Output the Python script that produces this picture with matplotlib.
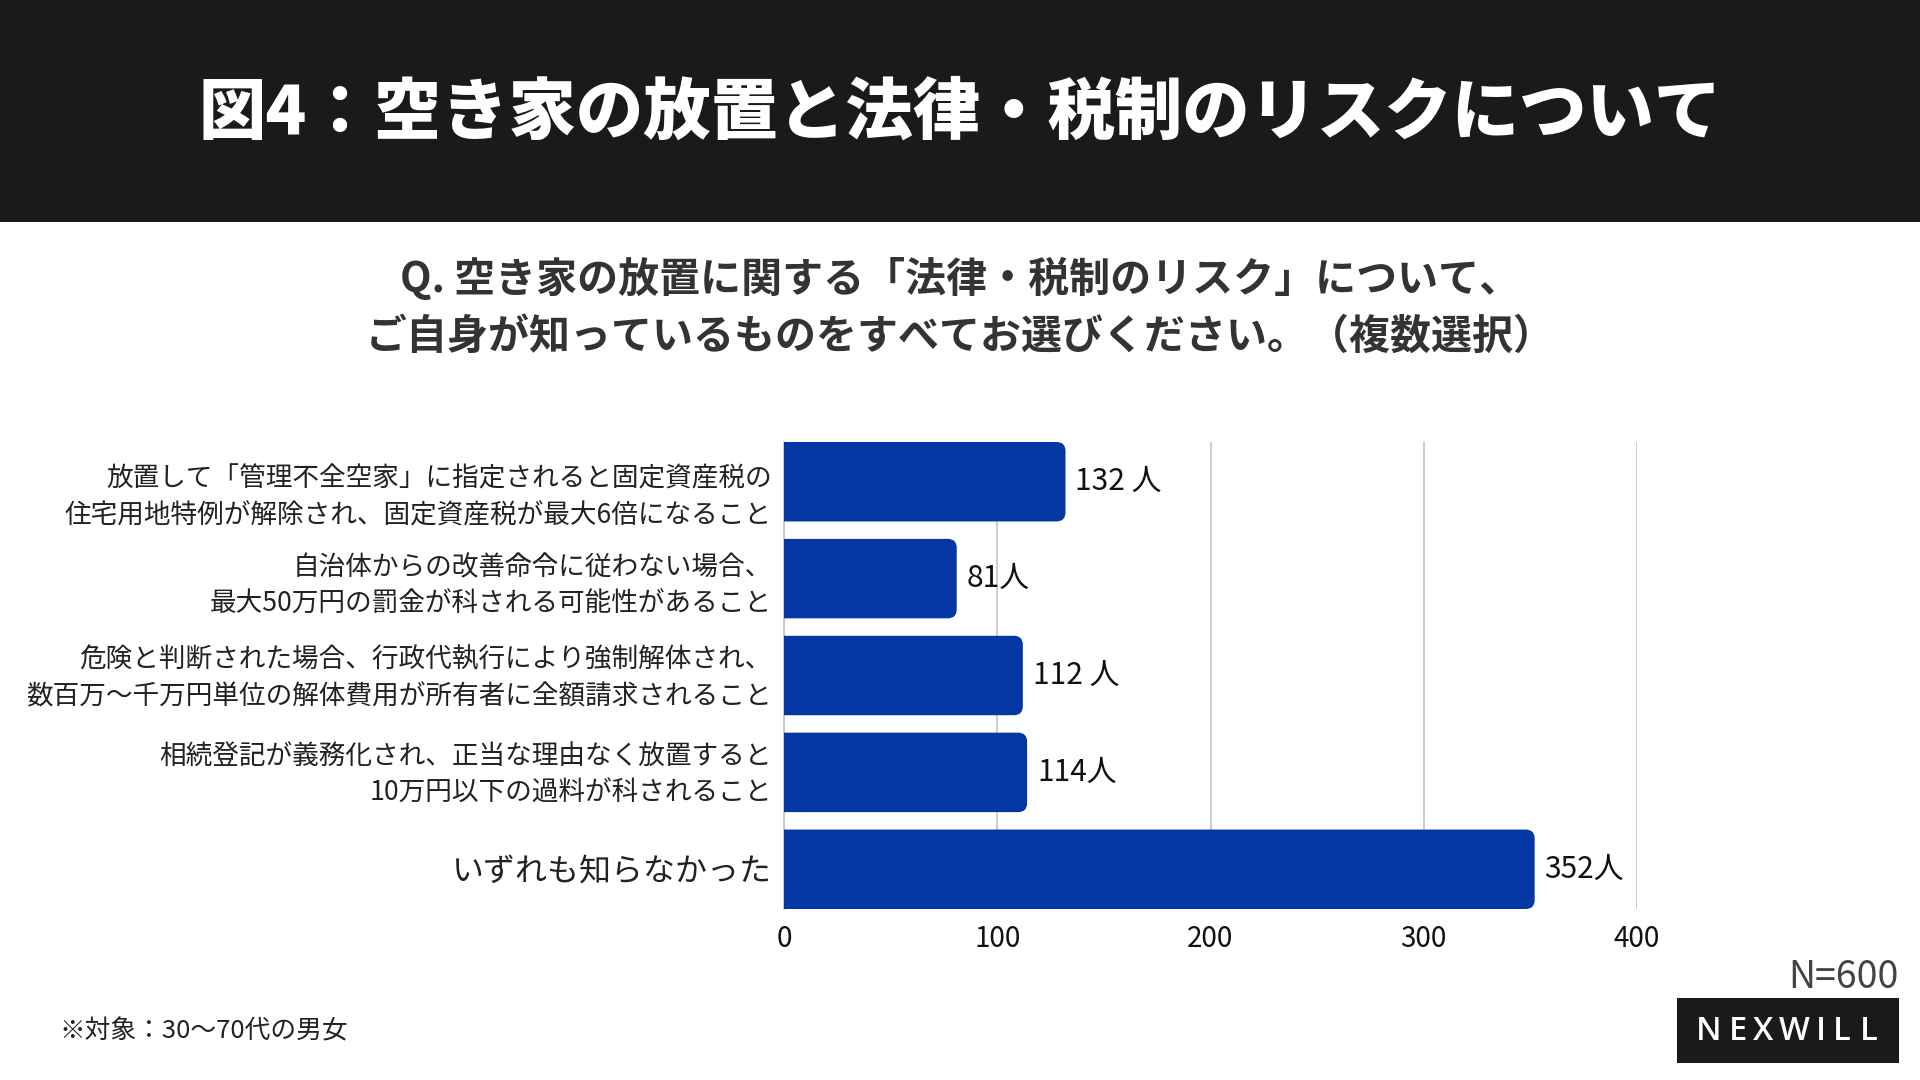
import matplotlib.pyplot as plt
from matplotlib.patches import FancyBboxPatch, Rectangle
from matplotlib.transforms import ScaledTranslation

plt.rcParams['font.family'] = ['Noto Sans CJK JP', 'DejaVu Sans']

# data
categories = [
    '放置して「管理不全空家」に指定されると固定資産税の\n住宅用地特例が解除され、固定資産税が最大6倍になること',
    '自治体からの改善命令に従わない場合、\n最大50万円の罰金が科される可能性があること',
    '危険と判断された場合、行政代執行により強制解体され、\n数百万〜千万円単位の解体費用が所有者に全額請求されること',
    '相続登記が義務化され、正当な理由なく放置すると\n10万円以下の過料が科されること',
    'いずれも知らなかった',
]
values = [132, 81, 112, 114, 352]
value_labels = ['132 人', '81人', '112 人', '114人', '352人']
xticks = [0, 100, 200, 300, 400]

title = '図4：空き家の放置と法律・税制のリスクについて'
question = 'Q. 空き家の放置に関する「法律・税制のリスク」について、\nご自身が知っているものをすべてお選びください。（複数選択）'
note = '※対象：30〜70代の男女'
n_text = 'N=600'
logo = 'NEXWILL'

BAR = '#0437a4'
W, H = 1920, 1080

fig = plt.figure(figsize=(19.2, 10.8), dpi=100)
fig.patch.set_facecolor('white')

# header band
fig.patches.append(Rectangle((0, 1 - 222 / H), 1, 222 / H, transform=fig.transFigure,
                             facecolor='#1a1a1a', edgecolor='none', zorder=0))
fig.text(0.5, 1 - 114 / H, title, color='white', fontsize=48.5, fontweight='black',
         ha='center', va='center')
fig.text(0.5, 1 - 308 / H, question, color='#333333', fontsize=29.5, fontweight='bold',
         ha='center', va='center', linespacing=1.45)

# chart
ax_l, ax_r, ax_t, ax_b = 784, 1637, 442, 909
ax = fig.add_axes([ax_l / W, 1 - ax_b / H, (ax_r - ax_l) / W, (ax_b - ax_t) / H])
ypos = list(range(len(categories)))
h = 0.82
bars = ax.barh(ypos, values, height=h, color=BAR, zorder=3)
ax.set_xlim(0, 400)
ax.set_ylim(len(categories) - 1 + h / 2, -h / 2)

# rounded right corners
xpp = 400 / (ax_r - ax_l)
ypp = (len(categories) - 1 + h) / (ax_b - ax_t)
r = 9 * xpp
for b in bars:
    x0, y0 = b.get_x(), b.get_y()
    w, hh = b.get_width(), b.get_height()
    b.set_visible(False)
    p = FancyBboxPatch((x0 - 20, y0), w + 20, hh,
                       boxstyle=f'round,pad=0,rounding_size={r}',
                       mutation_aspect=ypp / xpp, facecolor=BAR, edgecolor='none',
                       zorder=3)
    ax.add_patch(p)

for y, v, lab in zip(ypos, values, value_labels):
    ax.text(v + 10 * xpp, y, lab, va='center', ha='left', fontsize=21.5, color='#111111')

ax.set_xticks(xticks)
ax.set_xticklabels([str(t) for t in xticks], fontsize=20, color='#111111')
ax.set_yticks(ypos)
ax.set_yticklabels(categories, fontsize=19.2, color='#222222', linespacing=1.45)
ax.get_yticklabels()[-1].set_fontsize(23)
ax.tick_params(axis='both', length=0)
ax.tick_params(axis='x', pad=11)
ax.tick_params(axis='y', pad=9)

# small vertical nudges so the label blocks sit as in the original
nudge_px = [-8, 0, 5, 5, 0]
for lab, dy in zip(ax.get_yticklabels(), nudge_px):
    lab.set_transform(lab.get_transform() + ScaledTranslation(0, dy / 100, fig.dpi_scale_trans))

ax.grid(axis='x', color='#c8c8c8', linewidth=1.3, zorder=0)
for s in ['top', 'right', 'bottom']:
    ax.spines[s].set_visible(False)
ax.spines['left'].set_color('#c8c8c8')
ax.spines['left'].set_linewidth(1.3)

# footer
fig.text(59 / W, 1 - 1031 / H, note, fontsize=18.5, color='#222222', ha='left', va='center')
fig.text(1899 / W, 1 - 978 / H, n_text, fontsize=27, color='#444444', ha='right', va='center')
fig.patches.append(Rectangle((1677 / W, 1 - 1063 / H), 222 / W, 65 / H,
                             transform=fig.transFigure, facecolor='#1a1a1a',
                             edgecolor='none'))
logo_x = [1708.5, 1738.5, 1763, 1794, 1820.5, 1841.5, 1868.5]
for ch, lx in zip(logo, logo_x):
    fig.text(lx / W, 1 - 1031 / H, ch, fontsize=23.5, color='white', fontweight='semibold',
             ha='center', va='center', family=['Open Sans', 'DejaVu Sans'])

fig.savefig('out.png', dpi=100)
